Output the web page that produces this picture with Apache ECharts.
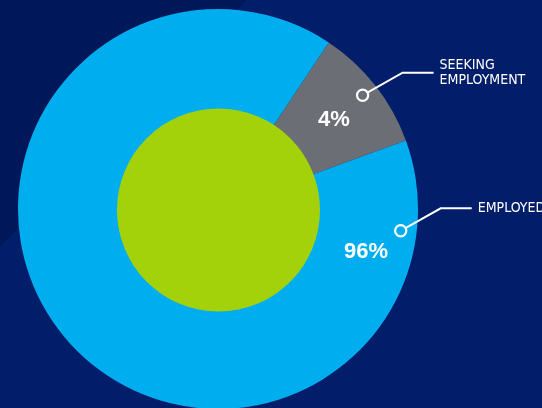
<!DOCTYPE html>
<html>
<head>
<meta charset="utf-8">
<script src="https://cdn.jsdelivr.net/npm/echarts@6/dist/echarts.min.js"></script>
<style>
  html, body { margin: 0; padding: 0; }
  body { width: 542px; height: 408px; overflow: hidden;
         background: linear-gradient(135deg, #00185a 25.9%, #021e6b 25.9%); }
  #chart { width: 542px; height: 408px; }
</style>
</head>
<body>
<div id="chart"></div>
<script>
// ---- data ----
const categories = ['SEEKING\nEMPLOYMENT', 'EMPLOYED'];
const shareLabels = ['4%', '96%'];
// share of the outer ring as drawn in the picture
const sliceValues = [10.1, 89.9];
const innerValues = [1];

// ---- layout (positions in polar terms, not data) ----
const CENTER = [218, 209];
const OUTER_R = 200;
const INNER_R = 101.5;
const markerRadius = [184, 184];
const markerAngles = [51.8, 96.8];   // degrees clockwise from 12 o'clock
const pctRadius = [146, 154];
const pctAngles = [52.5, 106];

const colors = ['#6b6e75', '#00aeef'];
const GREEN = '#a3d20a';
const FONT_NARROW = "'Liberation Sans Narrow', 'Arial Narrow', 'DejaVu Sans Condensed', sans-serif";

const chart = echarts.init(document.getElementById('chart'), null, { renderer: 'canvas' });

function renderCallout(params, api) {
  const i = params.dataIndex;
  const p = api.coord([api.value(0), api.value(1)]);
  const cx = p[0], cy = p[1];
  const dx = 40, dy = -22.5;
  const len = Math.sqrt(dx * dx + dy * dy);
  const sx = cx + dx / len * 6.5, sy = cy + dy / len * 6.5;
  const ex = cx + dx, ey = cy + dy;
  const hx = ex + 31;
  return {
    type: 'group',
    children: [
      {
        type: 'polyline',
        shape: { points: [[sx, sy], [ex, ey], [hx, ey]] },
        style: { stroke: '#ffffff', lineWidth: 2, fill: null }
      },
      {
        type: 'circle',
        shape: { cx: cx, cy: cy, r: 5.6 },
        style: { fill: colors[i], stroke: '#ffffff', lineWidth: 2.2 }
      },
      {
        type: 'text',
        x: hx + 6, y: ey,
        style: {
          text: categories[i],
          fill: '#ffffff',
          font: '14px ' + FONT_NARROW,
          lineHeight: 15,
          align: 'left',
          verticalAlign: 'middle'
        }
      }
    ]
  };
}

chart.setOption({
  animation: false,
  backgroundColor: 'transparent',
  polar: { center: CENTER, radius: OUTER_R },
  angleAxis: { type: 'value', min: 0, max: 360, startAngle: 90, clockwise: true, show: false },
  radiusAxis: { type: 'value', min: 0, max: OUTER_R, show: false },
  series: [
    {
      type: 'pie',
      silent: true,
      center: CENTER,
      radius: [0, OUTER_R],
      startAngle: 90 - 33.6,
      clockwise: true,
      label: { show: false },
      labelLine: { show: false },
      data: categories.map((c, i) => ({ name: c, value: sliceValues[i], itemStyle: { color: colors[i] } })),
      z: 1
    },
    {
      type: 'pie',
      silent: true,
      center: [218.5, 210],
      radius: [0, INNER_R],
      label: { show: false },
      labelLine: { show: false },
      data: innerValues.map(v => ({ value: v, itemStyle: { color: GREEN } })),
      z: 2
    },
    {
      type: 'custom',
      coordinateSystem: 'polar',
      silent: true,
      renderItem: renderCallout,
      data: markerRadius.map((r, i) => [r, markerAngles[i]]),
      z: 5
    },
    {
      type: 'scatter',
      coordinateSystem: 'polar',
      silent: true,
      symbolSize: 1,
      itemStyle: { color: 'rgba(0,0,0,0)', opacity: 1 },
      data: pctRadius.map((r, i) => [r, pctAngles[i]]),
      label: {
        show: true,
        position: 'inside',
        formatter: p => shareLabels[p.dataIndex],
        color: '#ffffff',
        opacity: 1,
        fontFamily: "'Liberation Sans', Arial, sans-serif",
        fontWeight: 'bold',
        fontSize: 22
      },
      z: 6
    }
  ]
});
</script>
</body>
</html>
